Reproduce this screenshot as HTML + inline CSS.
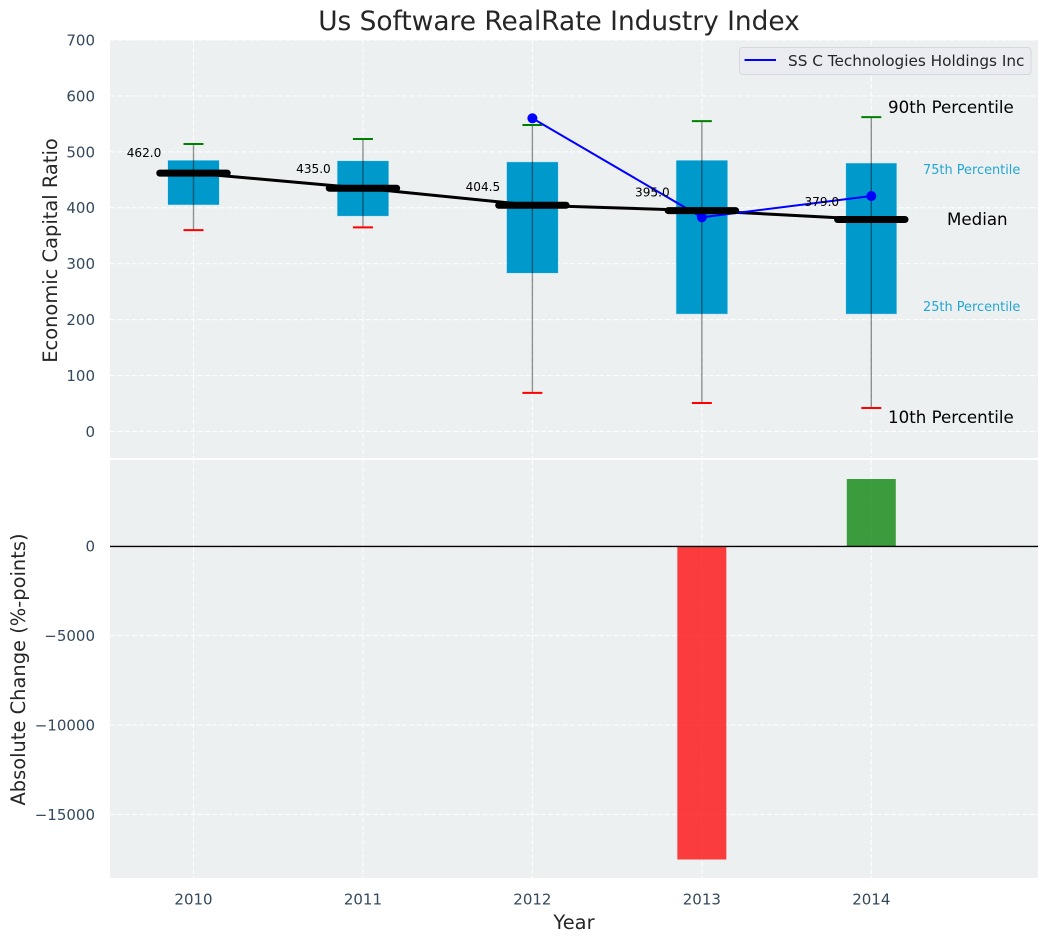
<!DOCTYPE html>
<html>
<head>
<meta charset="utf-8">
<style>
html,body{margin:0;padding:0;background:#fff;}
svg{display:block;font-family:"DejaVu Sans","Liberation Sans",sans-serif;}
</style>
</head>
<body>
<svg id="chart" xmlns="http://www.w3.org/2000/svg" width="1048" height="942" viewBox="0 0 1048 942">
<text x="559" y="30" font-size="26.4" fill="#262626" text-anchor="middle">Us Software RealRate Industry Index</text>
<rect x="110" y="40" width="928" height="418" fill="#ecf0f1"/>
<rect x="110" y="460" width="928" height="418" fill="#ecf0f1"/>
<g id="grid"></g>
<g id="bars"></g>
<g id="boxes"></g>
<g id="trend"></g>
<g id="company"></g>
<g id="medians"></g>
<g id="labels"></g>
<g id="ticks"></g>
<line x1="110" x2="1038" y1="546.4" y2="546.4" stroke="#000" stroke-width="1.4"/>
<text x="888" y="113" font-size="16.67" fill="#000">90th Percentile</text>
<text x="923" y="174" font-size="12.9" fill="#0099cc" fill-opacity="0.85">75th Percentile</text>
<text x="947" y="225" font-size="16.67" fill="#000">Median</text>
<text x="923" y="311" font-size="12.9" fill="#0099cc" fill-opacity="0.85">25th Percentile</text>
<text x="888" y="423" font-size="16.67" fill="#000">10th Percentile</text>
<g>
<rect x="739.5" y="47.5" width="291.5" height="27" rx="3" fill="#eaecf1" stroke="#d5d7db" stroke-width="1"/>
<line x1="744.5" x2="776" y1="60" y2="60" stroke="#0000ff" stroke-width="2"/>
<text x="788" y="66" font-size="15.28" fill="#262626">SS C Technologies Holdings Inc</text>
</g>
<text transform="translate(57,250.5) rotate(-90)" font-size="19.44" fill="#262626" text-anchor="middle">Economic Capital Ratio</text>
<text transform="translate(25,669.5) rotate(-90)" font-size="19.44" fill="#262626" text-anchor="middle">Absolute Change (%-points)</text>
<text x="574" y="929" font-size="19.44" fill="#262626" text-anchor="middle">Year</text>
</svg>
<script>
var years = [2010, 2011, 2012, 2013, 2014];
var p90 = [514, 523, 548, 555, 562];
var p75 = [485, 484, 482, 485, 480];
var medianValues = [462, 435, 404.5, 395, 379];
var p25 = [405, 385, 283, 210, 210];
var p10 = [360, 365, 69, 51, 42];
var companyYears = [2012, 2013, 2014];
var companyValues = [560, 383, 421];
var changeYears = [2013, 2014];
var changeValues = [-17514, 3743];
var topTicks = [0, 100, 200, 300, 400, 500, 600, 700];
var bottomTicks = [0, -5000, -10000, -15000];

var NS = 'http://www.w3.org/2000/svg';
var TICK_SIZE = 15;
var DASH = '5.1 2.2';
function xAxis(year) { return 193.5 + (year - 2010) * 169.45; }
function yTop(v) { return 431.5 - v * 0.5593; }
function yBottom(v) { return 546 - v * 0.0179; }
function make(tag, parentId, attrs, text) {
  var el = document.createElementNS(NS, tag);
  for (var k in attrs) { el.setAttribute(k, attrs[k]); }
  if (text !== undefined) { el.textContent = text; }
  document.getElementById(parentId).appendChild(el);
  return el;
}
function seriesPath(xs, ys) {
  return xs.map(function (x, i) { return (i ? 'L' : 'M') + xAxis(x) + ' ' + yTop(ys[i]); }).join(' ');
}
var el;

topTicks.forEach(function (t) {
  el = make('line', 'grid', {x1: 110, x2: 1038, y1: yTop(t), y2: yTop(t), stroke: '#fff', 'stroke-width': 1.2, 'stroke-dasharray': DASH, 'stroke-opacity': 0.85});
  
  
  el = make('text', 'ticks', {x: 95, y: yTop(t) + 5.4, 'font-size': TICK_SIZE, fill: '#34495e', 'text-anchor': 'end'}, String(t));
  
  
});
bottomTicks.forEach(function (t) {
  el = make('line', 'grid', {x1: 110, x2: 1038, y1: yBottom(t), y2: yBottom(t), stroke: '#fff', 'stroke-width': 1.2, 'stroke-dasharray': DASH, 'stroke-opacity': 0.85});
  
  
  el = make('text', 'ticks', {x: 95, y: yBottom(t) + 5.4, 'font-size': TICK_SIZE, fill: '#34495e', 'text-anchor': 'end'}, String(t).replace('-', '\u2212'));
  
  
});
years.forEach(function (year) {
  var x = xAxis(year);
  el = make('line', 'grid', {x1: x, x2: x, y1: 40, y2: 458, stroke: '#fff', 'stroke-width': 1.2, 'stroke-dasharray': DASH, 'stroke-opacity': 0.85});
  
  
  el = make('line', 'grid', {x1: x, x2: x, y1: 460, y2: 878, stroke: '#fff', 'stroke-width': 1.2, 'stroke-dasharray': DASH, 'stroke-opacity': 0.85});
  
  
  el = make('text', 'ticks', {x: x, y: 904.5, 'font-size': TICK_SIZE, fill: '#34495e', 'text-anchor': 'middle'}, String(year));
  
  
});

changeYears.forEach(function (year, i) {
  var v = changeValues[i];
  var y0 = yBottom(Math.max(v, 0));
  var y1 = yBottom(Math.min(v, 0));
  el = make('rect', 'bars', {x: xAxis(year) - 24.5, y: y0, width: 49, height: y1 - y0, fill: v < 0 ? '#ff0000' : '#008000', 'fill-opacity': 0.75});
  
  
});

years.forEach(function (year, i) {
  var x = xAxis(year);
  var halfWidth = i === 4 ? 25.5 : 25.8;
  el = make('rect', 'boxes', {x: x - halfWidth, y: yTop(p75[i]), width: halfWidth * 2, height: yTop(p25[i]) - yTop(p75[i]), fill: '#0099cc', stroke: '#bfe5f2', 'stroke-width': 0.5});
  
  
  el = make('line', 'boxes', {x1: x, x2: x, y1: yTop(p90[i]), y2: yTop(p10[i]), stroke: '#000', 'stroke-width': 1.4, 'stroke-opacity': 0.42});
  
  
  el = make('line', 'boxes', {x1: x - 10, x2: x + 10, y1: yTop(p90[i]), y2: yTop(p90[i]), stroke: '#008000', 'stroke-width': 2});
  
  
  el = make('line', 'boxes', {x1: x - 10, x2: x + 10, y1: yTop(p10[i]), y2: yTop(p10[i]), stroke: '#ff0000', 'stroke-width': 2});
  
  
});

el = make('path', 'trend', {d: seriesPath(years, medianValues), fill: 'none', stroke: '#000', 'stroke-width': 3});



el = make('path', 'company', {d: seriesPath(companyYears, companyValues), fill: 'none', stroke: '#0000ff', 'stroke-width': 2});


companyYears.forEach(function (year, i) {
  el = make('circle', 'company', {cx: xAxis(year), cy: yTop(companyValues[i]), r: 5, fill: '#0000ff'});
  
  
});

years.forEach(function (year, i) {
  var x = xAxis(year);
  el = make('line', 'medians', {x1: x - 33.7, x2: x + 33.7, y1: yTop(medianValues[i]), y2: yTop(medianValues[i]), stroke: '#000', 'stroke-width': 7, 'stroke-linecap': 'round'});
  
  
  el = make('text', 'labels', {x: x - 49.5, y: yTop(medianValues[i] * 1.063), 'font-size': 12.1, fill: '#000', 'text-anchor': 'middle'}, medianValues[i].toFixed(1));
  
  
});
</script>
</body>
</html>
